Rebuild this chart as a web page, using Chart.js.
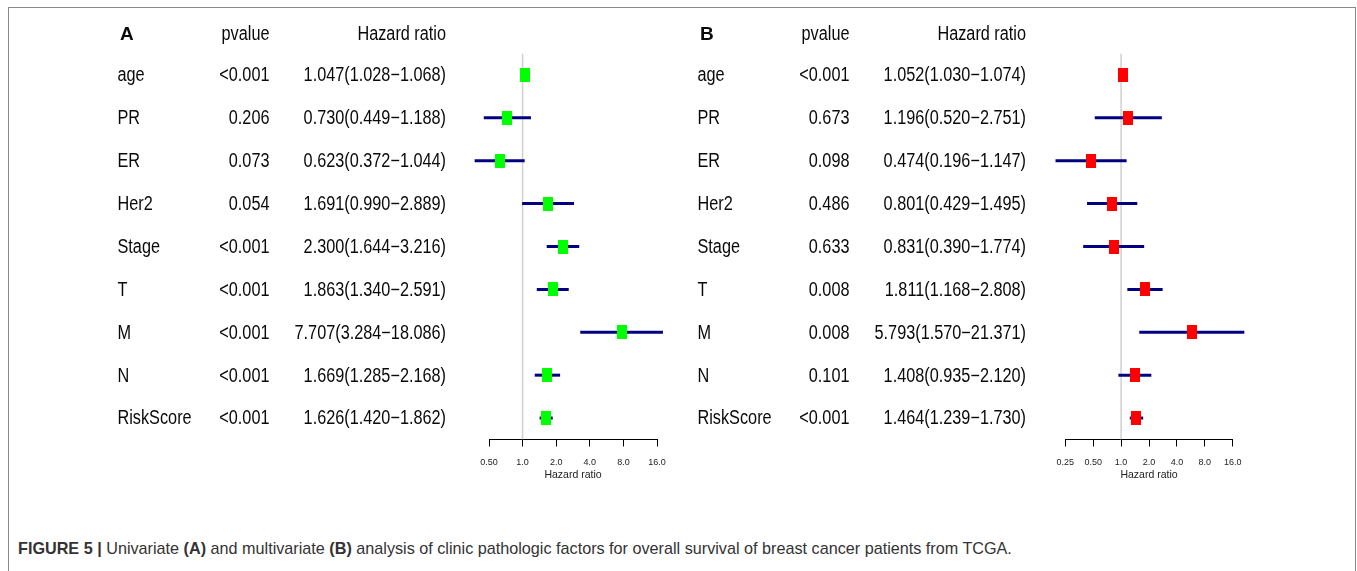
<!DOCTYPE html>
<html>
<head>
<meta charset="utf-8">
<script src="https://cdn.jsdelivr.net/npm/chart.js@4.4.1/dist/chart.umd.min.js"></script>
<style>
  html, body { margin: 0; padding: 0; background: #fff; }
  body { width: 1357px; height: 571px; position: relative; overflow: hidden; }
  .frame { position: absolute; left: 7.5px; top: 6.5px; width: 1346px; height: 620px; border: 1.5px solid #8a8a8a; }
  canvas.panel { position: absolute; top: 0; }
  #caption { position: absolute; left: 18px; top: 538.5px; font-family: "Liberation Sans", Arial, sans-serif; font-size: 16.2px; color: #333; white-space: nowrap; }
  #caption b { font-weight: bold; }
</style>
</head>
<body>
<div class="frame"></div>
<canvas id="chartA" class="panel" style="left:0px" width="680" height="490"></canvas>
<canvas id="chartB" class="panel" style="left:580px" width="680" height="490"></canvas>
<div id="caption"><b>FIGURE 5 |</b> Univariate <b>(A)</b> and multivariate <b>(B)</b> analysis of clinic pathologic factors for overall survival of breast cancer patients from TCGA.</div>
<script>
// factors (rows, top to bottom)
const factors = ['age', 'PR', 'ER', 'Her2', 'Stage', 'T', 'M', 'N', 'RiskScore'];

// A: univariate
const pvalA = ['<0.001', '0.206', '0.073', '0.054', '<0.001', '<0.001', '<0.001', '<0.001', '<0.001'];
const hrA = [1.047, 0.730, 0.623, 1.691, 2.300, 1.863, 7.707, 1.669, 1.626];
const lowA = [1.028, 0.449, 0.372, 0.990, 1.644, 1.340, 3.284, 1.285, 1.420];
const highA = [1.068, 1.188, 1.044, 2.889, 3.216, 2.591, 18.086, 2.168, 1.862];
const ticksA = [0.5, 1, 2, 4, 8, 16];
const tickLabelsA = ['0.50', '1.0', '2.0', '4.0', '8.0', '16.0'];

// B: multivariate
const pvalB = ['<0.001', '0.673', '0.098', '0.486', '0.633', '0.008', '0.008', '0.101', '<0.001'];
const hrB = [1.052, 1.196, 0.474, 0.801, 0.831, 1.811, 5.793, 1.408, 1.464];
const lowB = [1.030, 0.520, 0.196, 0.429, 0.390, 1.168, 1.570, 0.935, 1.239];
const highB = [1.074, 2.751, 1.147, 1.495, 1.774, 2.808, 21.371, 2.120, 1.730];
const ticksB = [0.25, 0.5, 1, 2, 4, 8, 16];
const tickLabelsB = ['0.25', '0.50', '1.0', '2.0', '4.0', '8.0', '16.0'];

const SANS = '"Liberation Sans", Arial, sans-serif';
const SQUEEZE = 0.83; // no narrow face installed, so squeeze the regular one

function boxImage(color) {
    const c = document.createElement('canvas');
    c.width = 10;
    c.height = 14;
    const g = c.getContext('2d');
    g.fillStyle = color;
    g.fillRect(0, 0, 10, 14);
    return c;
}

function narrowText(ctx, txt, x, y, align) {
    ctx.save();
    ctx.translate(x, y);
    ctx.scale(SQUEEZE, 1);
    ctx.textAlign = align;
    ctx.fillText(txt, 0, 0);
    ctx.restore();
}

// text columns to the left of the plot, positioned on the chart's y scale
function tablePlugin(letter, pvals, hr, low, high) {
    return {
        id: 'table' + letter,
        afterDraw(chart) {
            const ctx = chart.ctx;
            const y = chart.scales.y;
            ctx.save();
            ctx.fillStyle = '#0a0a0a';
            ctx.textBaseline = 'middle';
            const headY = 35;
            ctx.font = 'bold 19px ' + SANS;
            ctx.textAlign = 'left';
            ctx.fillText(letter, 120, headY);
            ctx.font = '19.6px ' + SANS;
            narrowText(ctx, 'pvalue', 269.5, headY, 'right');
            narrowText(ctx, 'Hazard ratio', 446, headY, 'right');
            factors.forEach((f, i) => {
                const py = y.getPixelForValue(i) + 1;
                narrowText(ctx, f, 117.5, py, 'left');
                narrowText(ctx, pvals[i], 269.5, py, 'right');
                const txt = hr[i].toFixed(3) + '(' + low[i].toFixed(3) + '\u2212' + high[i].toFixed(3) + ')';
                narrowText(ctx, txt, 446, py, 'right');
            });
            ctx.restore();
        }
    };
}

function forest(id, letter, pvals, hr, low, high, tickVals, tickLabels, color, padL, padR) {
    const datasets = [];
    datasets.push({
        type: 'scatter',
        data: hr.map((v, i) => ({ x: v, y: i })),
        pointStyle: boxImage(color),
        pointRadius: 7,
        order: 0
    });
    hr.forEach((v, i) => {
        datasets.push({
            type: 'line',
            data: [{ x: low[i], y: i }, { x: high[i], y: i }],
            borderColor: '#000080',
            borderWidth: 3,
            pointRadius: 0,
            clip: false,
            order: 1
        });
    });
    datasets.push({
        type: 'line',
        data: [{ x: 1, y: -0.5 }, { x: 1, y: 8.5 }],
        borderColor: '#d0d0d0',
        borderWidth: 1.5,
        pointRadius: 0,
        order: 2
    });

    new Chart(document.getElementById(id), {
        type: 'scatter',
        data: { datasets },
        options: {
            responsive: false,
            animation: false,
            events: [],
            layout: { padding: { left: padL, right: padR, top: 53.5, bottom: 4.5 } },
            plugins: { legend: { display: false }, tooltip: { enabled: false } },
            scales: {
                x: {
                    type: 'logarithmic',
                    min: tickVals[0],
                    max: tickVals[tickVals.length - 1],
                    afterBuildTicks: s => { s.ticks = tickVals.map(v => ({ value: v })); },
                    afterFit: s => { s.height = 46; },
                    grid: { drawOnChartArea: false, drawTicks: true, tickLength: 7, color: '#000', lineWidth: 1 },
                    border: { display: true, color: '#000', width: 1 },
                    ticks: {
                        autoSkip: false,
                        maxRotation: 0,
                        padding: 11,
                        color: '#222',
                        font: { family: SANS, size: 9 },
                        callback: (v, i) => tickLabels[i]
                    },
                    title: {
                        display: true,
                        text: 'Hazard ratio',
                        color: '#222',
                        font: { family: SANS, size: 10.5 },
                        padding: { top: 0, bottom: 4 }
                    }
                },
                y: {
                    type: 'linear',
                    display: false,
                    reverse: true,
                    min: -0.5,
                    max: 8.5
                }
            }
        },
        plugins: [tablePlugin(letter, pvals, hr, low, high)]
    });
}

forest('chartA', 'A', pvalA, hrA, lowA, highA, ticksA, tickLabelsA, '#00ff00', 489, 23);
forest('chartB', 'B', pvalB, hrB, lowB, highB, ticksB, tickLabelsB, '#ff0000', 485.3, 27.3);
</script>
</body>
</html>
